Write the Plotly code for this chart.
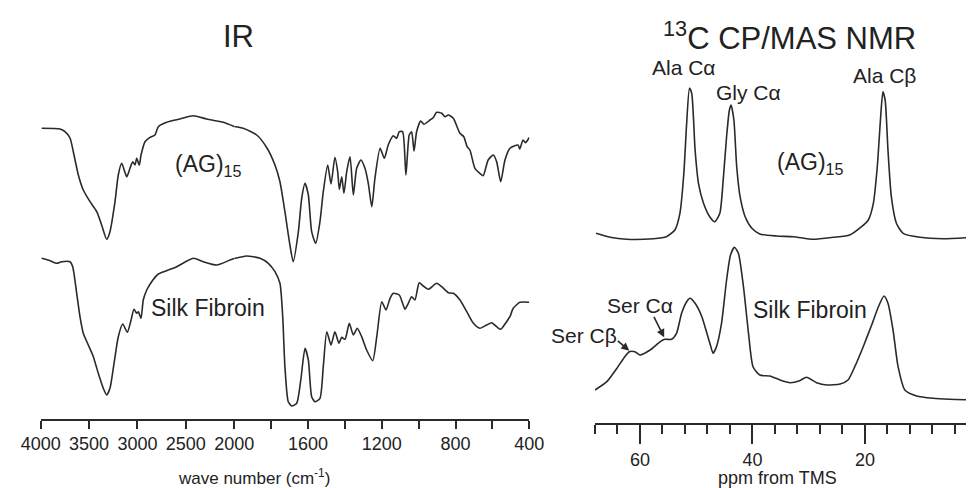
import plotly.graph_objects as go

# page offset (browser body margin) is 8 px, so the figure is 8 px smaller on each axis
OFF = 8
W, H = 974 - OFF, 488 - OFF
def px(x):
    return (x - OFF) / W
def py(y):
    return 1 - (y - OFF) / H

# ---------------- IR data (wavenumber cm-1, transmittance a.u.) ----------------
ir_ag_wn = [3990, 3801, 3749, 3697, 3663, 3611, 3560, 3490, 3421, 3370, 3318, 3284, 3232, 3198,
            3163, 3111, 3077, 3049, 3025, 3008, 2981, 2963, 2922, 2870, 2819, 2784, 2698, 2560,
            2423, 2284, 2113, 2000, 1951, 1878, 1824, 1779, 1752, 1725, 1698, 1680, 1652, 1634,
            1616, 1598, 1580, 1558, 1535, 1517, 1493, 1475, 1454, 1439, 1430, 1417, 1405, 1390,
            1372, 1354, 1336, 1313, 1291, 1273, 1254, 1237, 1209, 1186, 1165, 1138, 1119, 1105,
            1087, 1069, 1051, 1038, 1025, 1011, 989, 971, 938, 921, 902, 875, 857, 839, 812, 776,
            755, 737, 722, 695, 668, 650, 623, 595, 577, 555, 532, 505, 461, 452, 434, 421, 400]
ir_ag_t = [311.7, 311, 308.3, 302, 288.3, 265, 250, 238.3, 228.3, 215, 200.7, 208.3, 238.3, 265,
           276.7, 263.3, 271.7, 278.3, 275, 281.7, 275, 285, 298.3, 302.7, 305, 313.3, 317.7, 321,
           324.3, 321, 317.7, 313.5, 311.7, 305, 292.5, 275, 258.3, 228.3, 195, 178.3, 208.3, 241.7,
           256.7, 245, 208.3, 196.7, 218.3, 248.3, 275, 256, 282.7, 268.3, 250.7, 263.3, 246.7, 268.3,
           283.3, 245, 271.7, 280, 271.7, 256.7, 233.3, 261.7, 291.7, 281.7, 295, 304.3, 301.7, 308.3,
           308.3, 265, 305, 308.3, 289, 308.3, 319, 315.7, 320, 322.3, 327.7, 326.7, 323.3, 325, 321.7, 306.7,
           303.3, 293.3, 290, 271.7, 266.7, 264.3, 280, 285, 278.3, 258.3, 280, 291.7, 295, 291, 300, 297.3, 302.5]

ir_sf_wn = [3990, 3904, 3835, 3783, 3697, 3669, 3628, 3594, 3560, 3508, 3456, 3405, 3353, 3318,
            3284, 3242, 3198, 3152, 3105, 3070, 3036, 3008, 2991, 2963, 2940, 2904, 2853, 2784,
            2698, 2594, 2423, 2320, 2181, 2043, 2000, 1932, 1860, 1815, 1779, 1752, 1737, 1725,
            1707, 1688, 1661, 1639, 1616, 1598, 1580, 1562, 1535, 1517, 1498, 1475, 1454, 1432,
            1417, 1399, 1376, 1354, 1333, 1309, 1282, 1249, 1227, 1200, 1177, 1155, 1137, 1105,
            1087, 1074, 1056, 1038, 1020, 997, 975, 948, 902, 875, 839, 812, 776, 739, 703, 668,
            631, 604, 577, 555, 523, 505, 487, 451, 400]
ir_sf_t = [181.7, 179.3, 176.7, 178.3, 178.3, 173.3, 146.7, 123.3, 106.7, 95, 83.3, 66.7, 51.7, 45,
           51.7, 76.7, 103.3, 116, 107.7, 118.3, 130.7, 126.7, 128.3, 121.7, 140, 150, 158.3, 166,
           169.3, 173.3, 181.7, 178.3, 175, 180, 181.5, 184, 181.7, 176.7, 168.3, 156.7, 123.3, 73.3,
           38.3, 34, 36.7, 60, 91.7, 80, 43.3, 38.3, 41.7, 73.3, 108.3, 95, 108.3, 96.7,
           102.7, 100.7, 116.7, 105, 111.7, 103.3, 90, 79.3, 103.3, 138.3, 130, 141.7, 146.7, 145,
           136.7, 130.7, 136.7, 143.3, 140, 157.3, 154, 150.7, 156.7, 153.3, 147.3, 146.7, 140, 128.3, 116.7, 111.7,
           115, 117.3, 113.3, 110.7, 118.3, 123.3, 131.7, 137.7, 137.7]

ir_ticks_high = [4000, 3500, 3000, 2500, 2000]
ir_ticks_low = [1600, 1200, 800, 400]

# ---------------- NMR data (ppm, intensity a.u.) ----------------
nmr_ag_ppm = [67.8, 65.3, 62.4, 57.6, 55.3, 53.8, 52.9, 52.2, 51.7, 51.2, 50.8, 50.2, 49.6, 48.7,
              47.6, 46.7, 45.8, 45.2, 44.6, 44.1, 43.8, 43.3, 42.8, 42.2, 41.3, 40.1, 38.7, 35.7,
              32.7, 29.2, 25.6, 22.7, 20.6, 19.4, 18.5, 17.8, 17.2, 16.8, 16.4, 15.9, 15.3, 14.4,
              13.2, 10.2, 6.1, 0.6]
nmr_ag_int = [206.7, 202.7, 200.7, 201.3, 203.3, 210, 226.7, 266.7, 316.7, 351.7, 346.7, 290, 256.7, 236.7,
              223.3, 218.3, 226.7, 260, 303.3, 330, 335, 320, 273.3, 243.3, 223.3, 211.7, 206, 204,
              203.3, 200.7, 202.7, 205, 213.3, 220, 236.7, 273.3, 323.3, 348.3, 340, 290, 243.3, 216.7,
              206.7, 202.7, 201.3, 202.7]

nmr_sf_ppm = [68.0, 65.9, 64.1, 62.7, 61.9, 60.9, 60.0, 58.2, 56.4, 55.6, 54.4, 53.5, 52.6, 51.7,
              51.1, 50.2, 49.0, 48.1, 47.4, 47.0, 46.4, 45.5, 44.6, 43.9, 43.2, 42.5, 41.6, 40.7,
              39.9, 38.7, 36.9, 35.1, 33.3, 31.6, 30.4, 28.6, 26.8, 24.4, 23.0, 21.8, 20.3, 18.8,
              17.6, 16.6, 15.9, 15.0, 14.1, 12.9, 10.8, 7.9, 4.9, 0.6]
nmr_sf_int = [50, 58.3, 71.7, 83.3, 88.3, 88.3, 85, 90, 98.3, 100.7, 100.7, 106.7, 126.7, 138.3,
              141.7, 136.7, 123.3, 106.7, 93.3, 86.7, 93.3, 116.7, 160, 185, 192.7, 186.7, 153.3, 106.7,
              73.3, 65, 64, 60, 57.3, 59.3, 62.7, 57.3, 55, 56, 60, 73.3, 93.3, 115,
              133.3, 144, 136.7, 110, 73.3, 50, 44, 41.7, 40.7, 40]

LINE = "#2a2a2a"
TXT = "#222222"
FONT = "Liberation Sans, Arial, Helvetica, sans-serif"
line_style = dict(color=LINE, width=1.6, shape="spline", smoothing=0.6)

fig = go.Figure()

def add_ir(wn, t):
    hi = [(w, v) for w, v in zip(wn, t) if w >= 2000]
    lo = [(w, v) for w, v in zip(wn, t) if w <= 2000]
    fig.add_trace(go.Scatter(x=[a for a, _ in hi], y=[b for _, b in hi], mode="lines",
                             line=line_style, xaxis="x", yaxis="y", hoverinfo="skip"))
    fig.add_trace(go.Scatter(x=[a for a, _ in lo], y=[b for _, b in lo], mode="lines",
                             line=line_style, xaxis="x2", yaxis="y", hoverinfo="skip"))

add_ir(ir_ag_wn, ir_ag_t)
add_ir(ir_sf_wn, ir_sf_t)

fig.add_trace(go.Scatter(x=nmr_ag_ppm, y=nmr_ag_int, mode="lines", line=line_style,
                         xaxis="x3", yaxis="y3", hoverinfo="skip"))
fig.add_trace(go.Scatter(x=nmr_sf_ppm, y=nmr_sf_int, mode="lines", line=line_style,
                         xaxis="x3", yaxis="y3", hoverinfo="skip"))

axis_common = dict(showline=True, linecolor=LINE, linewidth=1.5, ticks="outside",
                   tickcolor=LINE, tickwidth=1.5, showgrid=False, zeroline=False,
                   automargin=False,
                   tickfont=dict(family=FONT, size=18, color=TXT))

fig.update_layout(
    width=W, height=H, margin=dict(l=0, r=0, t=0, b=0, pad=0, autoexpand=False),
    paper_bgcolor="white", plot_bgcolor="white", showlegend=False,
    xaxis=dict(domain=[px(40.7), px(234.2)], range=[4000, 2000], anchor="y",
               tickmode="array", tickvals=ir_ticks_high, ticklen=8, **axis_common),
    xaxis2=dict(domain=[px(234.2), px(529.3)], range=[2000, 400], anchor="y",
                tickmode="array", tickvals=ir_ticks_low, ticklen=8,
                minor=dict(tickmode="linear", tick0=0, dtick=200, ticklen=8, ticks="outside",
                           tickcolor=LINE, tickwidth=1.5),
                **axis_common),
    yaxis=dict(domain=[py(419), py(60)], range=[440 - 419, 440 - 60], visible=False,
               automargin=False),
    xaxis3=dict(domain=[px(595), 1.0], range=[68, 0.6], anchor="y3",
                tickmode="linear", tick0=0, dtick=20, ticklen=19,
                minor=dict(tickmode="linear", tick0=0, dtick=4, ticklen=9, ticks="outside",
                           tickcolor=LINE, tickwidth=1.5),
                **axis_common),
    yaxis3=dict(domain=[py(423.3), py(60)], range=[440 - 423.3, 440 - 60], visible=False,
                automargin=False),
)

def label(text, x, y, size):
    fig.add_annotation(text=text, x=px(x), y=py(y), xref="paper", yref="paper",
                       xanchor="center", yanchor="middle", showarrow=False,
                       font=dict(family=FONT, size=size, color=TXT))

label("IR", 238, 36, 31)
label("<sup>13</sup>C CP/MAS NMR", 789, 36, 31)
label("(AG)<sub>15</sub>", 208, 166, 23)
label("Silk Fibroin", 208, 308, 23)
label("(AG)<sub>15</sub>", 810, 164, 23)
label("Silk Fibroin", 810, 310, 23)
label("Ala Cα", 684, 67, 21)
label("Gly Cα", 748, 92, 21)
label("Ala Cβ", 884, 76, 21)
label("Ser Cβ", 584, 335, 21)
label("Ser Cα", 640, 305, 21)
label("wave number (cm<sup>-1</sup>)", 254, 477, 17)
label("ppm from TMS", 777, 478, 18)

for tip_ppm, tip_int, ax, ay in [(61.9, 89.3, -13, -11), (55.7, 102.7, -11, -22)]:
    fig.add_annotation(x=tip_ppm, y=tip_int, xref="x3", yref="y3", text="", showarrow=True,
                       ax=ax, ay=ay, axref="pixel", ayref="pixel", arrowhead=2,
                       arrowsize=1, arrowwidth=1.6, arrowcolor=LINE, standoff=0)

fig.write_html("out.html")
